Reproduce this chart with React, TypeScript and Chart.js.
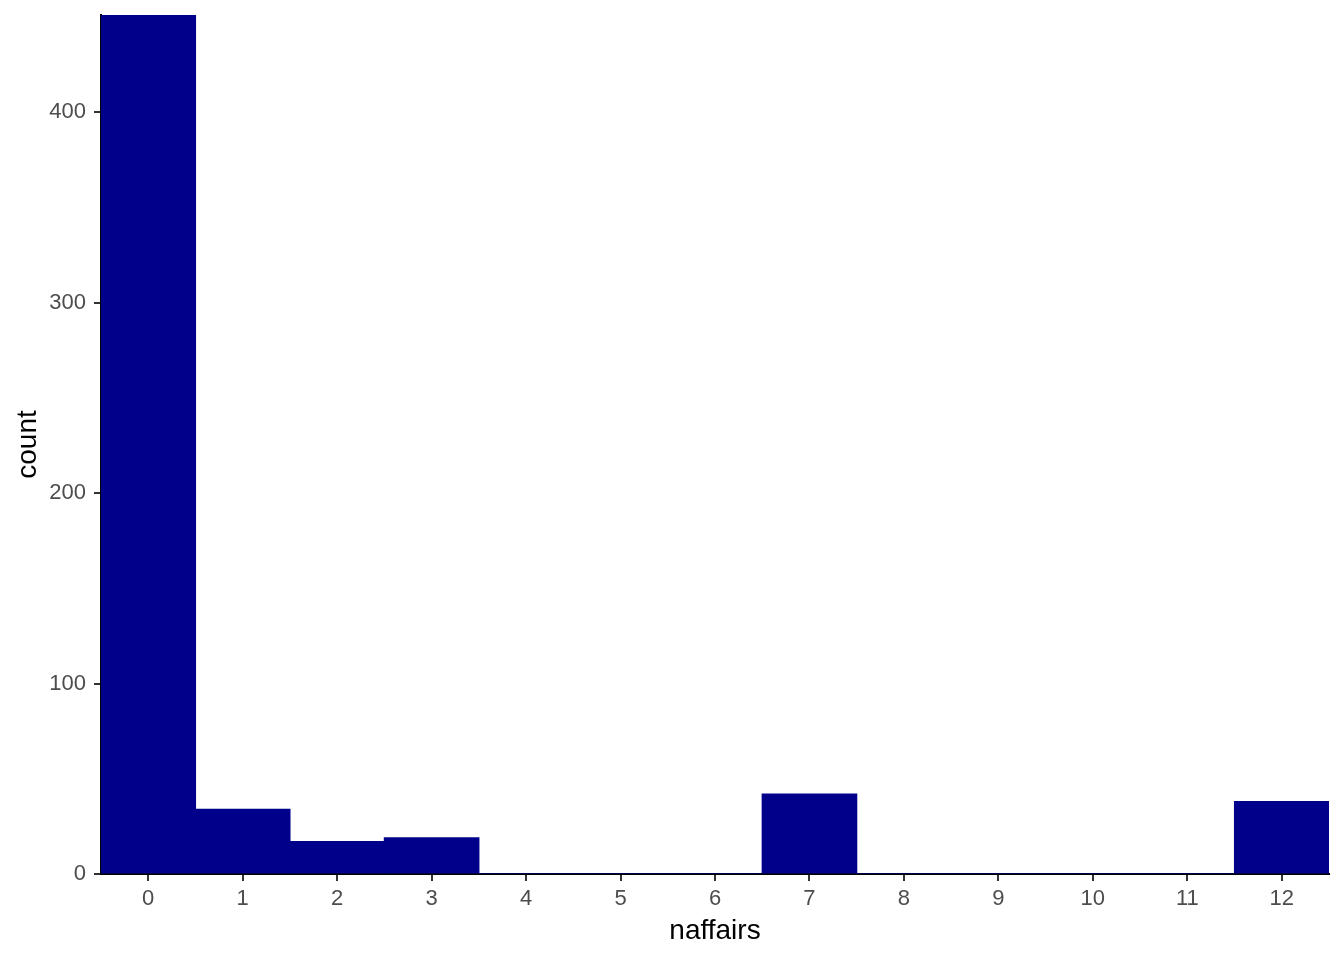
import React, { useEffect, useRef } from "react";
import { Chart, registerables } from "chart.js";

Chart.register(...registerables);

const categories: string[] = ["0", "1", "2", "3", "4", "5", "6", "7", "8", "9", "10", "11", "12"];
const counts: number[] = [451, 34, 17, 19, 0, 0, 0, 42, 0, 0, 0, 0, 38];
const yTicks: number[] = [0, 100, 200, 300, 400];
const xTitle = "naffairs";
const yTitle = "count";

export default function App() {
  const ref = useRef<HTMLCanvasElement | null>(null);

  useEffect(() => {
    if (!ref.current) return;
    const font = "'Liberation Sans', Arial, sans-serif";
    const chart = new Chart(ref.current, {
      type: "bar",
      data: {
        labels: categories,
        datasets: [
          {
            data: counts,
            backgroundColor: "#00008B",
            borderWidth: 0,
            inflateAmount: 0.6,
            barPercentage: 1,
            categoryPercentage: 1,
          },
        ],
      },
      options: {
        animation: false,
        responsive: false,
        maintainAspectRatio: false,
        layout: { padding: { top: 15, right: 15, left: 0, bottom: 0 } },
        plugins: { legend: { display: false }, tooltip: { enabled: false } },
        scales: {
          x: {
            offset: true,
            grid: {
              display: true,
              offset: false,
              drawOnChartArea: false,
              drawTicks: true,
              tickLength: 7,
              color: "#333333",
              lineWidth: 2,
            },
            border: { display: true, color: "#000000", width: 2 },
            ticks: {
              color: "#4D4D4D",
              font: { family: font, size: 22 },
              padding: 5,
              maxRotation: 0,
              autoSkip: false,
            },
            title: {
              display: true,
              text: xTitle,
              color: "#000000",
              font: { family: font, size: 28, lineHeight: 1 },
              padding: { top: 0, bottom: 15 },
            },
            afterFit: (scale: any) => {
              scale.height = 86;
              scale.paddingLeft = 0;
              scale.paddingRight = 0;
            },
          },
          y: {
            min: 0,
            max: 451,
            grid: {
              display: true,
              drawOnChartArea: false,
              drawTicks: true,
              tickLength: 7,
              color: "#333333",
              lineWidth: 2,
            },
            border: { display: true, color: "#000000", width: 2 },
            ticks: {
              color: "#4D4D4D",
              font: { family: font, size: 22 },
              padding: 8,
            },
            afterBuildTicks: (scale: any) => {
              scale.ticks = yTicks.map((v) => ({ value: v }));
            },
            title: {
              display: true,
              text: yTitle,
              color: "#000000",
              font: { family: font, size: 28, lineHeight: 1 },
              padding: { top: 14, bottom: 0 },
            },
            afterFit: (scale: any) => {
              scale.width = 101;
              scale.paddingTop = 0;
              scale.paddingBottom = 0;
            },
          },
        },
      },
    });
    return () => chart.destroy();
  }, []);

  return (
    <div style={{ position: "fixed", left: 0, top: 0, width: 1344, height: 960, background: "#fff" }}>
      <canvas ref={ref} width={1344} height={960} style={{ width: 1344, height: 960 }} />
    </div>
  );
}
